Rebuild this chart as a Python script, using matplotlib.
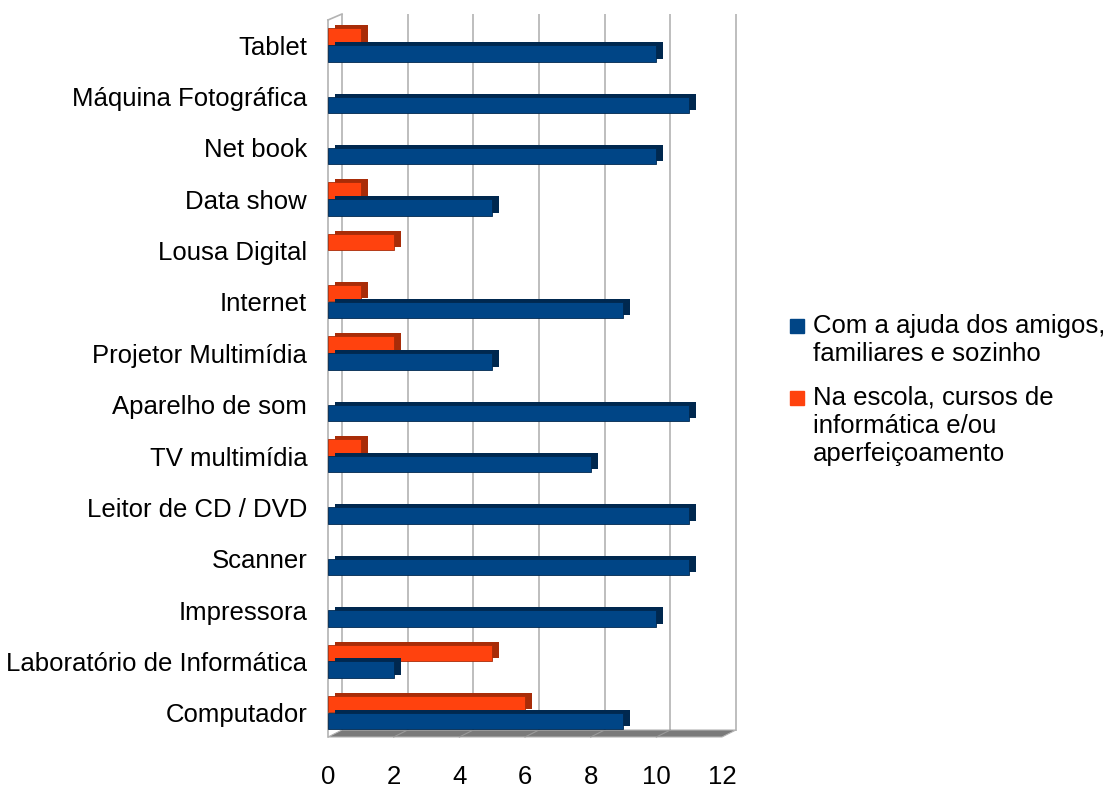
import matplotlib.pyplot as plt
import matplotlib.transforms as mtransforms
from matplotlib.patches import Polygon, Rectangle
import numpy as np

plt.rcParams['font.family'] = ['Liberation Sans', 'DejaVu Sans']

categories = ["Computador", "Laboratório de Informática", "Impressora", "Scanner",
              "Leitor de CD / DVD", "TV multimídia", "Aparelho de som",
              "Projetor Multimídia", "Internet", "Lousa Digital", "Data show",
              "Net book", "Máquina Fotográfica", "Tablet"]
amigos = [9, 2, 10, 11, 11, 8, 11, 5, 9, 0, 5, 10, 11, 10]
escola = [6, 5, 0, 0, 0, 1, 0, 2, 1, 2, 1, 0, 0, 1]
series_labels = ["Com a ajuda dos amigos,\nfamiliares e sozinho",
                 "Na escola, cursos de\ninformática e/ou\naperfeiçoamento"]
xticks = [0, 2, 4, 6, 8, 10, 12]

blue, blue_dark = "#004586", "#00284f"
orange, orange_dark = "#ff420e", "#a82c08"

fig = plt.figure(figsize=(11.17, 7.88), dpi=100)
ax = fig.add_axes([328 / 1117, 51 / 788, 394 / 1117, 717 / 788])
ax.set_xlim(0, 12)
ax.set_ylim(-0.47, 13.49)

depth = mtransforms.ScaledTranslation(14 / 100, 6 / 100, fig.dpi_scale_trans)
bar_depth = mtransforms.ScaledTranslation(7 / 100, 3 / 100, fig.dpi_scale_trans)

# back wall grid
ax.vlines(xticks, -0.47, 13.49, color="#b3b3b3", lw=1.2,
          transform=ax.transData + depth, clip_on=False, zorder=0)
# left wall
ax.plot([0, 0], [-0.47, 13.49], color="#b3b3b3", lw=1.2, clip_on=False, zorder=0)
ax.plot([0, 14 / 32.8], [13.49, 13.49 + 6 / 51.3], color="#b3b3b3", lw=1.2,
        clip_on=False, zorder=0)

# floor
floor = Polygon([[0, -0.47], [12, -0.47], [12 + 14 / 32.8, -0.47 + 7 / 51.3],
                 [14 / 32.8, -0.47 + 7 / 51.3]], closed=True,
                facecolor="#7a7a7a", edgecolor="#b3b3b3", lw=0.8,
                clip_on=False, zorder=1)
ax.add_patch(floor)
for t in xticks[1:-1]:
    ax.plot([t, t + 14 / 32.8], [-0.47, -0.47 + 7 / 51.3], color="#9a9a9a",
            lw=0.8, clip_on=False, zorder=1)

y = np.arange(len(categories))
h = 0.32

for vals, off, c, cd, z in [(escola, 0.17, orange, orange_dark, 2),
                            (amigos, -0.16, blue, blue_dark, 4)]:
    w = np.array(vals, dtype=float)
    mask = w > 0
    back = ax.barh(y[mask] + off, w[mask], height=h, color=cd, lw=0, zorder=z)
    for p in back:
        p.set_transform(ax.transData + bar_depth)
        p.set_clip_on(False)
    ax.barh(y[mask] + off, w[mask], height=h, color=c, edgecolor=cd, lw=0.6,
            zorder=z + 1)

ax.set_yticks(y)
ax.set_yticklabels(categories, fontsize=18.5)
ax.set_xticks(xticks)
ax.set_xticklabels([str(t) for t in xticks], fontsize=18.5)
ax.tick_params(axis="y", length=0, pad=15)
ax.tick_params(axis="x", length=0, pad=20)
for s in ax.spines.values():
    s.set_visible(False)

# legend
for i, (lab, c, ytop) in enumerate(zip(series_labels, [blue, orange], [314, 386])):
    fig.patches.append(Rectangle((790 / 1117, 1 - (ytop + 19) / 788), 14 / 1117, 14 / 788,
                                 transform=fig.transFigure, color=c))
    fig.text(813 / 1117, 1 - ytop / 788, lab, fontsize=18.5, va="top",
             linespacing=1.2)

plt.savefig("out.png")
plt.close()
